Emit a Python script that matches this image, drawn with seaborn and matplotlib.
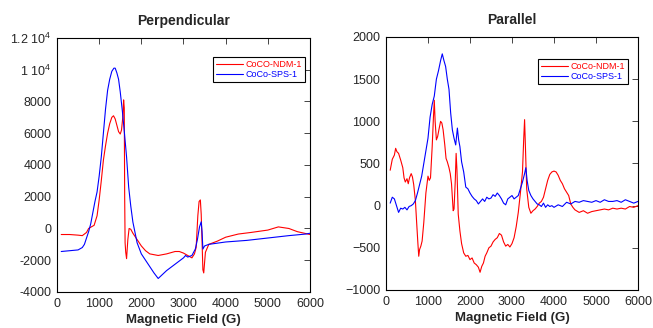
import matplotlib
matplotlib.use("Agg")
import matplotlib.pyplot as plt
import seaborn as sns

# Perpendicular spectra (field in G, intensity)
perp_ndm_x = [100, 300, 500, 600, 700, 750, 800, 880, 950, 1000, 1050, 1100, 1150, 1200, 1250, 1300,
              1340, 1380, 1420, 1460, 1500, 1530, 1560, 1580, 1595, 1605, 1615, 1630, 1650, 1680, 1710,
              1750, 1800, 1900, 2000, 2100, 2200, 2400, 2600, 2800, 2900, 3000, 3100, 3200, 3260, 3300,
              3340, 3370, 3400, 3420, 3440, 3460, 3480, 3520, 3600, 3800, 4000, 4300, 4600, 5000, 5250,
              5500, 5700, 6000]
perp_ndm_y = [-380, -380, -420, -450, -250, 0, 80, 200, 800, 1800, 3000, 4300, 5200, 6000, 6600, 7000,
              7100, 6900, 6500, 6100, 5950, 6200, 7000, 8100, 7600, 2000, -900, -1500, -1900, -700, 0,
              -50, -300, -700, -1100, -1400, -1600, -1700, -1600, -1450, -1450, -1550, -1700, -1850, -1600, -1200,
              800, 1700, 1800, 900, -800, -2600, -2800, -1500, -1000, -800, -550, -350, -250, -100, 100,
              0, -200, -380]

perp_sps_x = [100, 300, 500, 600, 650, 700, 750, 800, 850, 900, 950, 1000, 1050, 1100, 1150, 1200, 1250,
              1300, 1350, 1380, 1420, 1460, 1500, 1550, 1600, 1650, 1700, 1750, 1800, 1900, 2000, 2100,
              2200, 2300, 2400, 2500, 2600, 2700, 2800, 2900, 3000, 3050, 3100, 3200, 3280, 3330, 3380,
              3420, 3440, 3460, 3500, 3600, 4000, 4500, 5000, 5500, 5900, 6000]
perp_sps_y = [-1450, -1400, -1350, -1200, -1000, -600, -200, 300, 1000, 1700, 2300, 3300, 4500, 6000, 7500,
              8700, 9400, 9900, 10100, 10100, 9800, 9400, 8600, 7400, 6000, 4500, 2600, 1400, 400, -900,
              -1600, -2000, -2400, -2800, -3150, -2900, -2650, -2450, -2250, -2050, -1850, -1700, -1800,
              -1700, -1300, -700, 100, 420, -200, -1300, -1100, -1000, -850, -750, -600, -450, -350, -300]

# Parallel spectra
par_ndm_x = [100, 150, 200, 230, 260, 300, 350, 400, 430, 460, 500, 530, 560, 600, 630, 660, 700, 730,
             760, 780, 800, 830, 860, 900, 950, 1000, 1030, 1060, 1100, 1130, 1150, 1170, 1200, 1230,
             1260, 1300, 1330, 1360, 1400, 1430, 1460, 1500, 1530, 1560, 1580, 1600, 1620, 1650, 1670,
             1690, 1720, 1760, 1800, 1850, 1900, 1950, 2000, 2050, 2100, 2150, 2200, 2240, 2280, 2320,
             2360, 2400, 2450, 2500, 2550, 2600, 2650, 2700, 2750, 2800, 2850, 2900, 2950, 3000, 3050,
             3100, 3150, 3200, 3250, 3280, 3300, 3320, 3350, 3400, 3450, 3500, 3550, 3600, 3650, 3700,
             3750, 3800, 3850, 3900, 3950, 4000, 4050, 4100, 4150, 4200, 4250, 4300, 4350, 4400, 4450,
             4500, 4600, 4700, 4800, 4900, 5000, 5100, 5200, 5300, 5400, 5500, 5600, 5700, 5800, 5900, 6000]
par_ndm_y = [420, 550, 600, 680, 640, 620, 540, 450, 330, 280, 320, 260, 330, 380, 340, 250, 60, -200,
             -450, -600, -520, -480, -420, -200, 150, 350, 300, 330, 700, 1050, 1250, 1000, 780, 820,
             900, 1000, 980, 900, 720, 560, 520, 450, 380, 260, 100, -60, -40, 300, 620,
             420, -100, -300, -450, -560, -600, -590, -640, -620, -680, -700, -730, -790, -720, -680,
             -600, -560, -500, -480, -430, -400, -380, -330, -350, -430, -480, -460, -490, -450, -380,
             -250, -80, 150, 400, 800, 1020, 700, 200, -20, -90, -60, -40, -10, 30, 50,
             100, 200, 300, 370, 400, 410, 400, 360, 300, 260, 200, 160, 120, 20, -20,
             -50, -80, -60, -90, -70, -60, -50, -40, -50, -30, -40, -30, -40, -10, -20, 0]

par_sps_x = [100, 150, 200, 250, 300, 350, 400, 450, 500, 550, 600, 650, 700, 750, 800, 850, 900, 950,
             1000, 1050, 1100, 1150, 1200, 1250, 1300, 1340, 1380, 1420, 1460, 1500, 1540, 1580, 1620,
             1660, 1700, 1730, 1760, 1800, 1850, 1900, 1950, 2000, 2050, 2100, 2150, 2200, 2250, 2300,
             2350, 2400, 2450, 2500, 2550, 2600, 2650, 2700, 2750, 2800, 2850, 2900, 2950, 3000, 3050,
             3100, 3150, 3200, 3250, 3300, 3330, 3360, 3400, 3450, 3500, 3550, 3600, 3650, 3700, 3750,
             3800, 3850, 3900, 3950, 4000, 4100, 4200, 4300, 4400, 4500, 4600, 4700, 4800, 4900, 5000,
             5100, 5200, 5300, 5400, 5500, 5600, 5700, 5800, 5900, 6000]
par_sps_y = [30, 100, 80, 0, -80, -30, -40, -20, -50, -10, 0, 20, 60, 150, 250, 350, 500, 650,
             800, 1050, 1200, 1300, 1500, 1600, 1720, 1800, 1720, 1650, 1500, 1380, 1100, 900, 800,
             720, 920, 780, 700, 520, 400, 220, 200, 150, 110, 80, 60, 20, 50, 80,
             50, 100, 80, 90, 130, 110, 150, 120, 80, 30, 10, 80, 100, 120, 80,
             100, 120, 200, 280, 380, 450, 300, 180, 120, 80, 50, 20, 10, -10, 30,
             -20, 10, -10, 0, -20, 10, -10, 40, 20, 50, 40, 60, 50, 40, 60,
             40, 70, 50, 50, 60, 40, 70, 50, 30, 50]

perp_yticks = [-4000, -2000, 0, 2000, 4000, 6000, 8000, 10000, 12000]
perp_yticklabels = ["-4000", "-2000", "0", "2000", "4000", "6000", "8000", "1 10$^4$", "1.2 10$^4$"]
par_yticks = [-1000, -500, 0, 500, 1000, 1500, 2000]
xticks = [0, 1000, 2000, 3000, 4000, 5000, 6000]

sns.set_style("white")
plt.rcParams["font.family"] = ["Liberation Sans", "DejaVu Sans"]
plt.rcParams["mathtext.fontset"] = "custom"
plt.rcParams["mathtext.rm"] = "Liberation Sans"

fig = plt.figure(figsize=(6.53, 3.28), dpi=100)
ax1 = fig.add_axes([0.0873, 0.1098, 0.3874, 0.7744])
ax2 = fig.add_axes([0.5911, 0.1159, 0.3859, 0.7713])

sns.lineplot(x=perp_ndm_x, y=perp_ndm_y, ax=ax1, color="red", lw=0.8, label="CoCO-NDM-1")
sns.lineplot(x=perp_sps_x, y=perp_sps_y, ax=ax1, color="blue", lw=0.8, label="CoCo-SPS-1")
sns.lineplot(x=par_ndm_x, y=par_ndm_y, ax=ax2, color="red", lw=0.8, label="CoCo-NDM-1")
sns.lineplot(x=par_sps_x, y=par_sps_y, ax=ax2, color="blue", lw=0.8, label="CoCo-SPS-1")

ax1.set_ylim(-4000, 12000)
ax1.set_yticks(perp_yticks)
ax1.set_yticklabels(perp_yticklabels)
ax2.set_ylim(-1000, 2000)
ax2.set_yticks(par_yticks)

for ax, title, leg_anchor in [(ax1, "Perpendicular", (0.98, 0.925)), (ax2, "Parallel", (0.96, 0.913))]:
    ax.set_xlim(0, 6000)
    ax.set_xticks(xticks)
    ax.set_title(title, fontsize=10, fontweight="bold", pad=9)
    ax.set_xlabel("Magnetic Field (G)", fontsize=9.5, fontweight="bold", labelpad=3)
    ax.set_ylabel("")
    ax.tick_params(direction="in", top=True, right=True, labelsize=9, length=4, width=0.6, pad=4)
    for s in ax.spines.values():
        s.set_color("black")
        s.set_linewidth(0.8)
    leg = ax.legend(loc="upper right", bbox_to_anchor=leg_anchor, fontsize=6.5, labelcolor="linecolor",
                    frameon=True, fancybox=False, framealpha=1, edgecolor="black", handlelength=2.9,
                    handletextpad=0.3, borderpad=0.35, labelspacing=0.1, borderaxespad=0)
    leg.get_frame().set_linewidth(0.8)

fig.savefig("out.png", dpi=100)
